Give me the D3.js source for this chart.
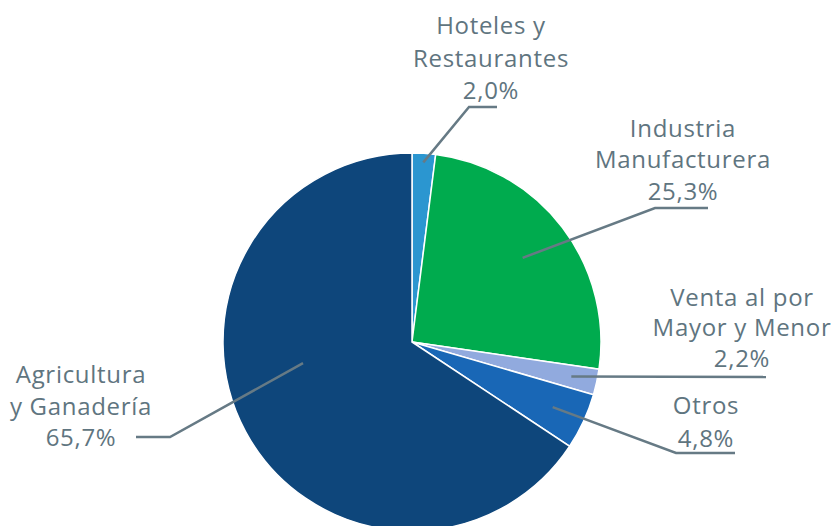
<!DOCTYPE html>
<html><head><meta charset="utf-8">
<script src="https://cdn.jsdelivr.net/npm/d3@7"></script>
<style>body{margin:0;background:#fff}svg{display:block}text{font-family:"Open Sans",sans-serif;fill:#5f7580}</style>
</head><body><svg id="c" width="836" height="526"></svg>
<script>
const categories = ["Hoteles y Restaurantes","Industria Manufacturera","Venta al por Mayor y Menor","Otros","Agricultura y Ganadería"];
const values = [2.0, 25.3, 2.2, 4.8, 65.7];
const labelLines = [["Hoteles y","Restaurantes","2,0%"],["Industria","Manufacturera","25,3%"],["Venta al por","Mayor y Menor","2,2%"],["Otros","4,8%"],["Agricultura","y Ganadería","65,7%"]];
const colors = ["#2b96d0","#00ab4e","#91aade","#1967b6","#0e467b"];

// layout (label placement relative to pie centre)
const cx = 412, cy = 342, R = 189;
const layout = [
  {r:180, da:0, elbow:[57,-235], end:[85,-235], tx:79, ty:[-308,-275,-243]},
  {r:139, da:0, elbow:[243,-134], end:[296,-134], tx:271, ty:[-205,-174,-142]},
  {r:163, da:0, elbow:null, end:[354,35], tx:330, ty:[-36,-6,25]},
  {r:155, da:0, elbow:[264,111], end:[323,111], tx:294, ty:[72,105]},
  {r:111, da:17.3, elbow:[-242,95], end:[-276,95], tx:-331, ty:[41,73,104]}
];

const svg = d3.select("#c");
const g = svg.append("g").attr("transform",`translate(${cx},${cy})`);
const pie = d3.pie().sort(null).value(d=>d)(values);
const arc = d3.arc().innerRadius(0).outerRadius(R);
g.selectAll("path.s").data(pie).join("path").attr("class","s")
  .attr("d",arc).attr("fill",(d,i)=>colors[i]).attr("stroke","#fff").attr("stroke-width",1.5);

pie.forEach((d,i)=>{
  const L = layout[i];
  const a = (d.startAngle+d.endAngle)/2 + L.da*Math.PI/180;
  const p0 = [Math.sin(a)*L.r, -Math.cos(a)*L.r];
  const pts = [p0]; if(L.elbow) pts.push(L.elbow); pts.push(L.end);
  g.append("path").attr("d",d3.line()(pts)).attr("fill","none").attr("stroke","#667a85").attr("stroke-width",2.5);
  labelLines[i].forEach((t,j)=>{
    g.append("text").attr("x",L.tx).attr("y",L.ty[j]).attr("text-anchor","middle")
      .attr("font-size",24).attr("letter-spacing","0.7px").text(t);
  });
});
</script></body></html>
